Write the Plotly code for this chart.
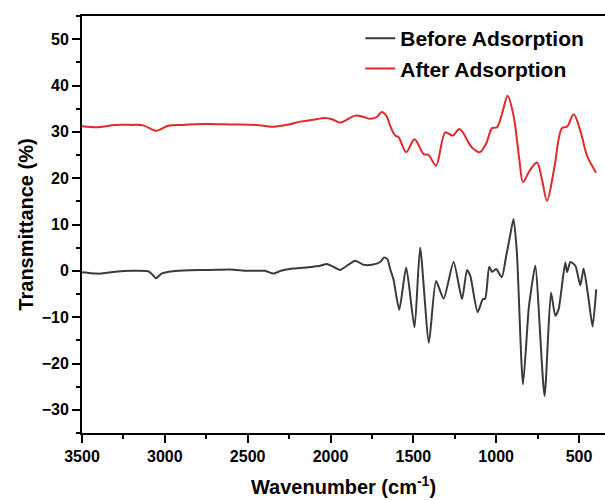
import plotly.graph_objects as go

# Before adsorption (black)
before_wn = [3500, 3450, 3391, 3300, 3200, 3101, 3075, 3053, 3020, 2950, 2850, 2727, 2606, 2500,
             2395, 2346, 2300, 2226, 2183, 2103, 2062, 2022, 1990, 1942, 1851, 1801, 1750, 1700,
             1676, 1656, 1640, 1620, 1585, 1543, 1493, 1459, 1406, 1363, 1317, 1257, 1206, 1176,
             1156, 1112, 1080, 1066, 1042, 1025, 1000, 966, 942, 920, 895, 875, 838, 804, 788,
             764, 708, 669, 643, 623, 583, 572, 552, 522, 492, 472, 442, 418, 396]
before_t = [-0.3, -0.5, -0.6, -0.2, 0.0, -0.1, -0.8, -1.6, -0.6, -0.1, 0.1, 0.2, 0.3, 0.0,
            0.0, -0.6, 0.0, 0.5, 0.6, 0.9, 1.1, 1.5, 1.0, 0.2, 2.2, 1.3, 1.3, 1.9,
            2.9, 2.5, 0.4, -1.8, -8.4, 0.7, -12.2, 5.0, -15.5, -2.2, -6.0, 1.9, -6.1, 0.2,
            -1.1, -8.9, -6.1, -6.0, 0.9, -0.2, 0.4, -1.4, 2.7, 6.8, 11.2, 4.0, -24.5, -8.3, -4.0,
            1.1, -27.0, -4.7, -9.7, -8.3, 1.8, -0.3, 1.9, 1.1, -3.1, 0.5, -6.1, -12.0, -4.0]

# After adsorption (red)
after_wn = [3500, 3400, 3300, 3200, 3130, 3053, 2980, 2900, 2750, 2600, 2450, 2346, 2250, 2183,
            2105, 2032, 1990, 1942, 1851, 1800, 1761, 1720, 1690, 1660, 1640, 1610, 1590, 1543,
            1493, 1438, 1408, 1363, 1307, 1263, 1221, 1146, 1100, 1060, 1025, 995, 960, 931,
            895, 860, 838, 800, 754, 725, 693, 650, 603, 572, 532, 490, 451, 397]
after_t = [31.2, 31.0, 31.5, 31.5, 31.4, 30.2, 31.3, 31.5, 31.7, 31.6, 31.5, 31.1, 31.6, 32.2,
           32.6, 33.0, 32.7, 32.0, 33.5, 33.2, 32.8, 33.2, 34.3, 33.3, 31.3, 29.2, 28.9, 25.6,
           28.4, 25.2, 25.0, 22.7, 29.9, 29.2, 30.6, 26.6, 25.6, 27.5, 30.8, 31.0, 34.5, 37.8,
           33.5, 24.0, 19.1, 21.5, 23.4, 20.0, 15.1, 22.0, 30.8, 31.1, 33.8, 30.0, 24.8, 21.2]

x_ticks = [3500, 3000, 2500, 2000, 1500, 1000, 500]
y_ticks = [-30, -20, -10, 0, 10, 20, 30, 40, 50]

FONT = "Liberation Sans, Arial, sans-serif"

fig = go.Figure()
fig.add_trace(go.Scatter(x=before_wn, y=before_t, mode="lines", name="<b>Before Adsorption</b>",
                         line=dict(color="#3a3a3a", width=2, shape="spline", smoothing=0.6)))
fig.add_trace(go.Scatter(x=after_wn, y=after_t, mode="lines", name="<b>After Adsorption</b>",
                         line=dict(color="#de2a2a", width=2, shape="spline", smoothing=0.9)))

fig.update_layout(
    width=605, height=500,
    margin=dict(l=82, r=0, t=16, b=67),
    paper_bgcolor="white", plot_bgcolor="white",
    font=dict(family=FONT, color="black"),
    showlegend=True,
    legend=dict(x=0.532, y=0.995, xanchor="left", yanchor="top",
                font=dict(size=21, family=FONT, color="black"),
                bgcolor="rgba(0,0,0,0)", tracegroupgap=0, itemwidth=30),
    xaxis=dict(
        range=[3500, 343], autorange=False,
        tickvals=x_ticks, ticktext=[f"<b>{v}</b>" for v in x_ticks],
        ticks="outside", ticklen=8, tickwidth=2, tickcolor="black",
        minor=dict(dtick=250, ticks="outside", ticklen=4, tickwidth=2, tickcolor="black"),
        showline=True, linecolor="black", linewidth=2, mirror=True,
        showgrid=False, zeroline=False,
        tickfont=dict(size=16, family=FONT, color="black"),
        title=dict(text="<b>Wavenumber (cm<sup>-1</sup>)</b>", font=dict(size=20, family=FONT, color="black"),
                   standoff=16),
    ),
    yaxis=dict(
        range=[-35, 55], autorange=False,
        tickvals=y_ticks, ticktext=[f"<b>{v}</b>".replace("-", "\u2212") for v in y_ticks],
        ticks="outside", ticklen=8, tickwidth=2, tickcolor="black",
        minor=dict(dtick=5, tick0=0, ticks="outside", ticklen=4, tickwidth=2, tickcolor="black"),
        showline=True, linecolor="black", linewidth=2, mirror=False,
        showgrid=False, zeroline=False,
        tickfont=dict(size=16, family=FONT, color="black"),
        title=dict(text="<b>Transmittance (%)</b>", font=dict(size=20, family=FONT, color="black"),
                   standoff=3),
    ),
)

fig.write_html("out.html")
